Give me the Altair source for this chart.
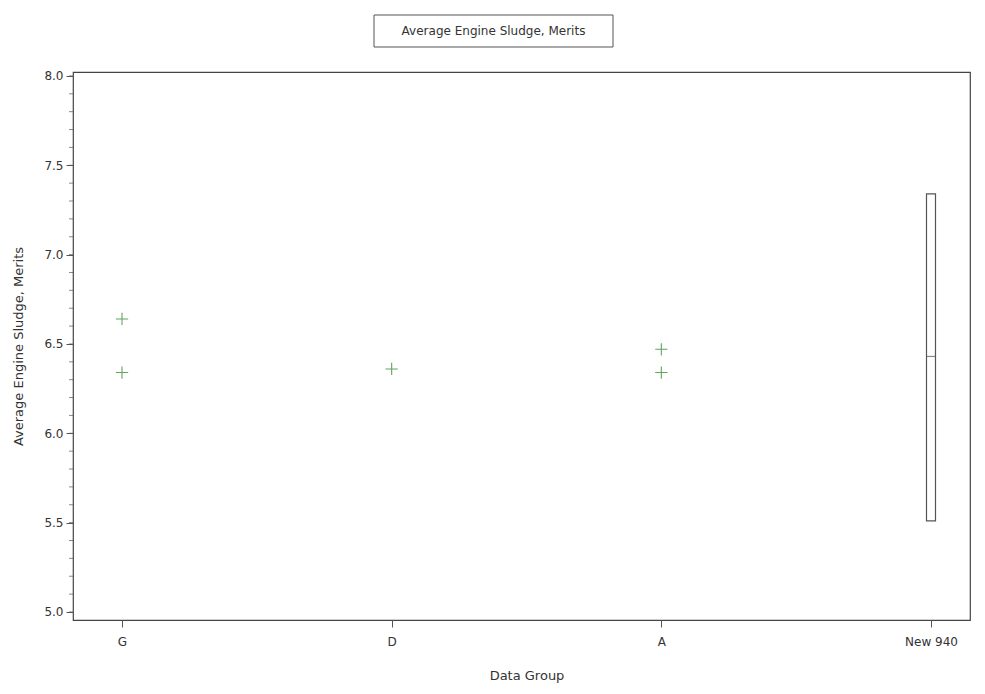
import altair as alt
import pandas as pd

# ---- data ----
groups = ["G", "D", "A", "New 940"]
point_groups = ["G", "G", "D", "A", "A"]
point_values = [6.64, 6.34, 6.36, 6.47, 6.34]
box_group = ["New 940"]
box_low = [5.51]
box_median = [6.43]
box_high = [7.34]
title_text = "Average Engine Sludge, Merits"
major_ticks = [5.0, 5.5, 6.0, 6.5, 7.0, 7.5, 8.0]
minor_ticks = [round(5.0 + 0.1 * i, 1) for i in range(31)]

pts = pd.DataFrame({"group": point_groups, "value": point_values})
box = pd.DataFrame({"group": box_group, "low": box_low, "median": box_median, "high": box_high})
ttl = pd.DataFrame({"t": [title_text]})
mt = pd.DataFrame({"value": minor_ticks})

FONT = "DejaVu Sans"
TXT = "#333333"
LINE = "#555555"

xscale = alt.Scale(domain=groups, type="point", range=[49, 858], padding=0)
yscale = alt.Scale(domain=[4.955, 8.022], nice=False, zero=False)

x_axis = alt.Axis(title="Data Group", labelAngle=0, tickSize=7, domain=False,
                  tickColor=LINE, labelColor=TXT, titleColor=TXT,
                  labelFont=FONT, titleFont=FONT, labelFontSize=12, titleFontSize=13,
                  titleFontWeight="normal", labelPadding=9, titlePadding=22, grid=False)

y_axis = alt.Axis(title=title_text, values=major_ticks, format=".1f", tickSize=7,
                  domain=False, tickColor=LINE, labelColor=TXT, titleColor=TXT,
                  labelFont=FONT, titleFont=FONT, labelFontSize=12, titleFontSize=13,
                  titleFontWeight="normal", labelPadding=3, titlePadding=18, grid=False)

points = alt.Chart(pts).mark_point(
    shape="M-1,0L1,0M0,-1L0,1", filled=False, size=150, strokeWidth=1.1, color="#1f7f1f"
).encode(
    x=alt.X("group:N", scale=xscale, axis=x_axis, sort=groups),
    y=alt.Y("value:Q", scale=yscale, axis=y_axis),
)

minor = alt.Chart(mt).mark_tick(size=4, thickness=1, color=LINE, clip=False).encode(
    x=alt.value(-2),
    y=alt.Y("value:Q", scale=yscale),
)

boxes = alt.Chart(box).mark_bar(size=9, fill="white", stroke=LINE, strokeWidth=1.2).encode(
    x=alt.X("group:N", scale=xscale, sort=groups),
    y=alt.Y("low:Q", scale=yscale),
    y2="high:Q",
)

med = alt.Chart(box).mark_tick(size=9, thickness=1.2, color=LINE).encode(
    x=alt.X("group:N", scale=xscale, sort=groups),
    y=alt.Y("median:Q", scale=yscale),
)

title_box = alt.Chart(ttl).mark_rect(fill="white", stroke=LINE, strokeWidth=1, clip=False).encode(
    x=alt.value(301), x2=alt.value(540), y=alt.value(-57), y2=alt.value(-25)
)
title_txt = alt.Chart(ttl).mark_text(font=FONT, fontSize=12, color=TXT, align="center",
                                     baseline="middle", clip=False).encode(
    x=alt.value(420.5), y=alt.value(-41), text="t:N"
)

chart = alt.layer(points, minor, boxes, med, title_box, title_txt).properties(
    width=897, height=548,
    autosize=alt.AutoSizeParams(type="none"),
    padding={"left": 65, "top": 64, "right": 7, "bottom": 66},
    background="white",
).configure_view(stroke="#444444", strokeWidth=1.2)

chart.save("out.html", embed_options={"renderer": "svg", "actions": False})
